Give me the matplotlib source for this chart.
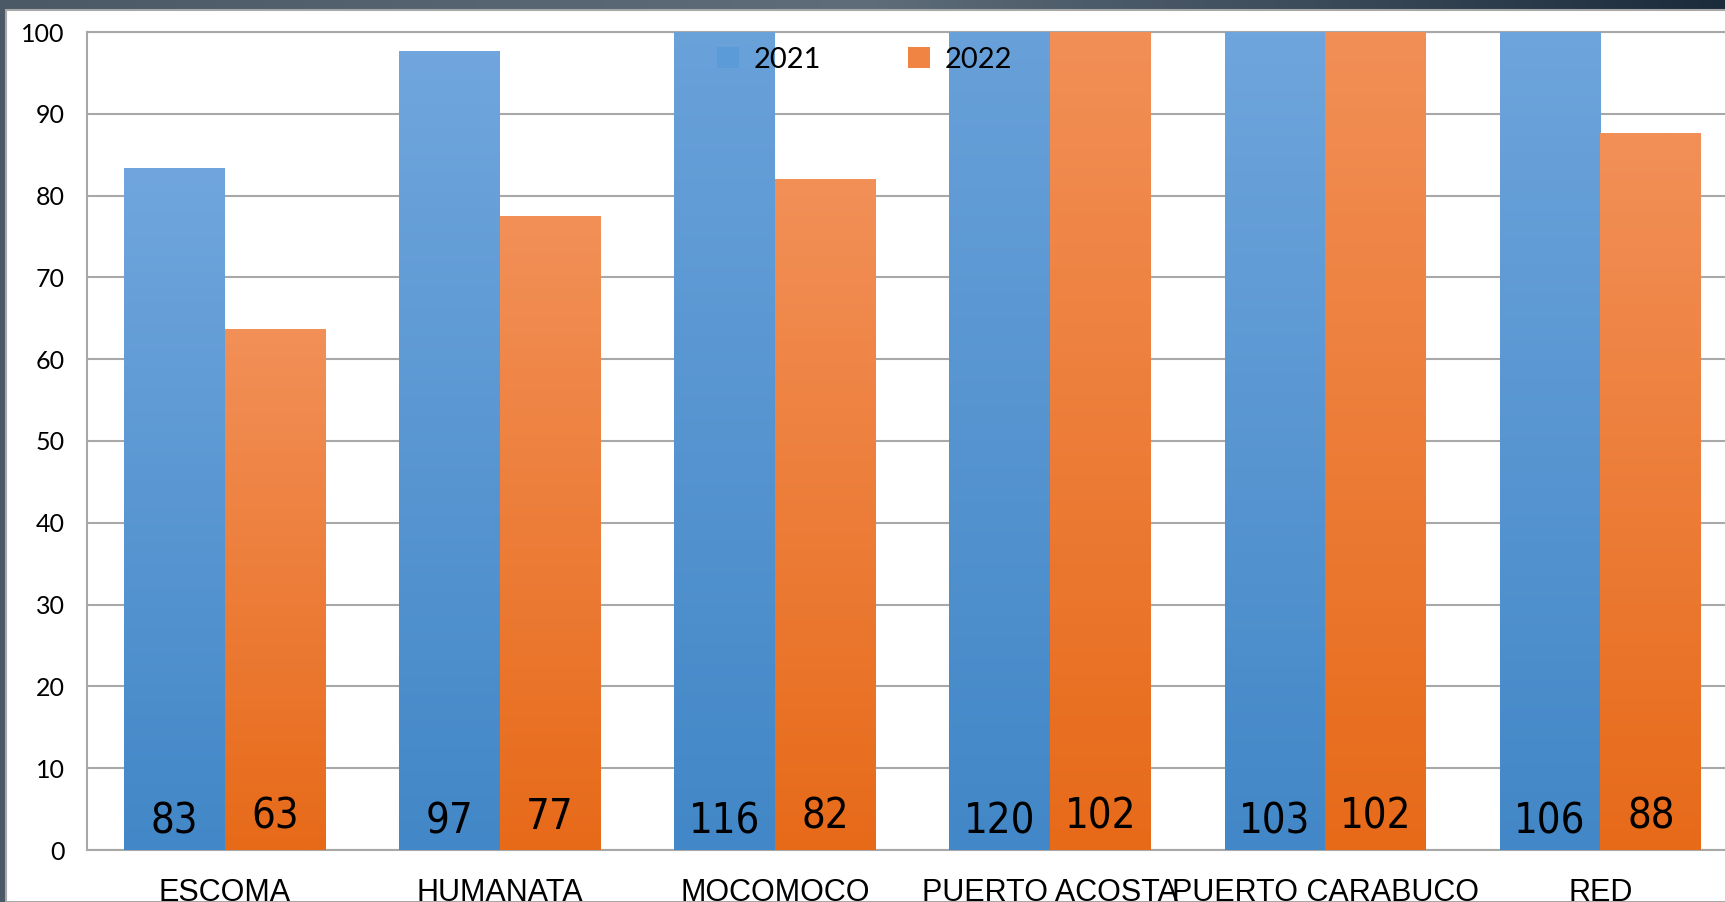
import matplotlib.pyplot as plt
from matplotlib.colors import LinearSegmentedColormap
from matplotlib.patches import Rectangle
import numpy as np

categories = ['ESCOMA', 'HUMANATA', 'MOCOMOCO', 'PUERTO ACOSTA', 'PUERTO CARABUCO', 'RED']
v2021 = [83.3, 97.6, 116, 120, 103, 106]
v2022 = [63.6, 77.4, 82.0, 102, 102, 87.6]
lab2021 = ['83', '97', '116', '120', '103', '106']
lab2022 = ['63', '77', '82', '102', '102', '88']
yticks = [0, 10, 20, 30, 40, 50, 60, 70, 80, 90, 100]

blue_map = LinearSegmentedColormap.from_list('b', ['#4287c7', '#70a6dd'])
orange_map = LinearSegmentedColormap.from_list('o', ['#e76a19', '#f29058'])

fig = plt.figure(figsize=(17.25, 9.02), dpi=100)
fig.patch.set_facecolor('#45525e')

# dark gradient band at top of the slide
bg = fig.add_axes([0, 0, 1, 1], zorder=-10)
grad = np.linspace(0, 1, 256).reshape(1, -1)
bg.imshow(grad, aspect='auto', extent=(0, 1, 0, 1),
          cmap=LinearSegmentedColormap.from_list('g', ['#4b5966', '#5f6d7a', '#1c2b3c']))
bg.add_patch(Rectangle((6 / 1725, 0), 1, 1 - 10 / 902, facecolor='white',
                       edgecolor='#a8a8a8', lw=1.5))
bg.set_xlim(0, 1)
bg.set_ylim(0, 1)
bg.axis('off')

ax = fig.add_axes([87 / 1725, 1 - 850 / 902, 1651 / 1725, 818 / 902])
ax.set_facecolor('none')
x = np.arange(len(categories))
w = 0.366
b1 = ax.bar(x - w / 2, v2021, w, color='#5a9bd8', label='2021', zorder=2)
b2 = ax.bar(x + w / 2, v2022, w, color='#ef8443', label='2022', zorder=2)

# vertical gradient inside each bar (clipped by the axes box)
g = np.linspace(0, 1, 256).reshape(-1, 1)
for bars, cmap in ((b1, blue_map), (b2, orange_map)):
    for r in bars:
        bx, by = r.get_x(), r.get_y()
        ax.imshow(g, cmap=cmap, origin='lower', aspect='auto', zorder=3,
                  extent=(bx, bx + r.get_width(), by, by + r.get_height()))

for i in range(len(categories)):
    ax.text(x[i] - w / 2, 2.0, lab2021[i], ha='center', va='baseline', fontsize=30,
            family='DejaVu Sans', stretch='condensed', zorder=5)
    ax.text(x[i] + w / 2, 2.6, lab2022[i], ha='center', va='baseline', fontsize=30,
            family='DejaVu Sans', stretch='condensed', zorder=5)

ax.set_xlim(-0.5, 5.5)
ax.set_ylim(0, 100)
ax.set_yticks(yticks)
ax.set_yticklabels([str(t) for t in yticks], family='Lato', fontsize=18)
ax.set_xticks(x)
ax.set_xticklabels(categories, family='Liberation Sans', fontsize=22)
ax.tick_params(axis='y', length=0, pad=16)
ax.tick_params(axis='x', length=0, pad=20)
ax.grid(axis='y', color='#a8a8a8', lw=1.5, zorder=1)
ax.set_axisbelow(True)
for s in ['left', 'bottom', 'top']:
    ax.spines[s].set_color('#a8a8a8')
    ax.spines[s].set_linewidth(1.5)
ax.spines['right'].set_visible(False)

leg = ax.legend(loc='center', bbox_to_anchor=(0.471, 0.966), ncol=2, frameon=False,
                prop={'family': 'Lato', 'size': 21}, handlelength=0.75, handleheight=0.75,
                columnspacing=3.0, handletextpad=0.5)
leg.set_zorder(6)

fig.savefig('out.png', dpi=100)
